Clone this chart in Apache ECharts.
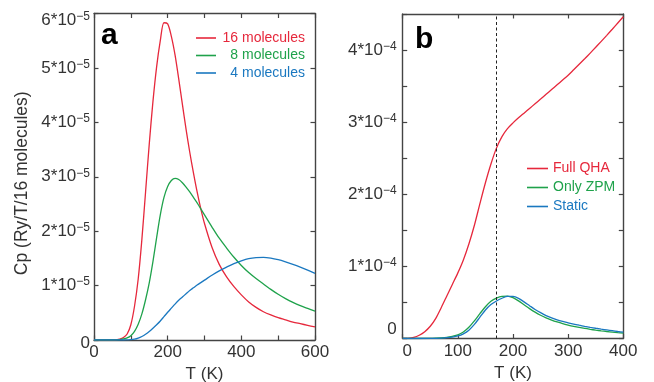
<!DOCTYPE html>
<html>
<head>
<meta charset="utf-8">
<title>Heat capacity vs temperature</title>
<script src="https://cdn.jsdelivr.net/npm/echarts@6/dist/echarts.min.js"></script>
<style>
  html, body { margin: 0; padding: 0; background: #fff; }
  #chart { width: 654px; height: 382px; }
</style>
</head>
<body>
<div id="chart"></div>
<script>
// Panel a: Cp per cell size, values in units of 1e-5 Ry/T/16 molecules
const tempA = [0, 10, 20, 30, 40, 50, 60, 70, 80, 90, 100, 110, 120, 130, 140, 150, 160, 170, 180, 190,
  200, 210, 220, 230, 240, 250, 260, 270, 280, 290, 300, 320, 340, 360, 380, 400, 420, 440, 460, 480,
  500, 520, 540, 560, 580, 600];
const cp16 = [0, 0, 0, 0, 0, 0, 0.003, 0.015, 0.045, 0.11, 0.28, 0.62, 1.12, 1.85, 2.72, 3.6, 4.38, 5.02, 5.5, 5.83,
  5.81, 5.58, 5.24, 4.8, 4.33, 3.87, 3.45, 3.07, 2.72, 2.41, 2.14, 1.71, 1.39, 1.16, 0.98, 0.83, 0.7, 0.6, 0.52, 0.46,
  0.41, 0.37, 0.33, 0.3, 0.27, 0.24];
const cp8 = [0, 0, 0, 0, 0, 0, 0.002, 0.008, 0.02, 0.04, 0.08, 0.16, 0.29, 0.48, 0.74, 1.05, 1.44, 1.88, 2.3, 2.62,
  2.82, 2.93, 2.97, 2.95, 2.89, 2.81, 2.72, 2.62, 2.52, 2.41, 2.3, 2.08, 1.87, 1.69, 1.52, 1.37, 1.24, 1.13, 1.03, 0.93,
  0.84, 0.76, 0.69, 0.63, 0.58, 0.53];
const cp4 = [0, 0, 0, 0, 0, 0, 0, 0, 0, 0.002, 0.005, 0.015, 0.035, 0.065, 0.105, 0.155, 0.215, 0.28, 0.35, 0.43,
  0.51, 0.585, 0.66, 0.73, 0.79, 0.85, 0.91, 0.96, 1.01, 1.055, 1.1, 1.19, 1.27, 1.34, 1.405, 1.455, 1.495, 1.515, 1.52, 1.505,
  1.475, 1.435, 1.39, 1.34, 1.285, 1.225];

// Panel b: Cp for three approximations, values in units of 1e-4
const tempB = [0, 10, 20, 30, 40, 50, 60, 70, 80, 90, 100, 110, 120, 130, 140, 150, 160, 170, 180, 190,
  200, 210, 220, 230, 240, 250, 260, 270, 280, 290, 300, 310, 320, 330, 340, 350, 360, 370, 380, 390, 400];
const cpQha = [0, 0.003, 0.015, 0.045, 0.095, 0.17, 0.28, 0.43, 0.59, 0.75, 0.91, 1.09, 1.31, 1.57, 1.87, 2.16, 2.42, 2.64, 2.8, 2.91,
  2.99, 3.06, 3.125, 3.19, 3.255, 3.32, 3.386, 3.452, 3.518, 3.584, 3.651, 3.726, 3.802, 3.879, 3.958, 4.039, 4.121, 4.204, 4.289, 4.375, 4.462];
const cpZpm = [0, 0, 0, 0, 0.001, 0.002, 0.005, 0.009, 0.016, 0.03, 0.05, 0.09, 0.155, 0.245, 0.345, 0.44, 0.515, 0.56, 0.585, 0.588,
  0.566, 0.522, 0.468, 0.414, 0.365, 0.322, 0.286, 0.256, 0.23, 0.207, 0.187, 0.169, 0.153, 0.139, 0.127, 0.116, 0.106, 0.097, 0.089, 0.081, 0.074];
const cpStatic = [0, 0, 0, 0, 0, 0.001, 0.003, 0.006, 0.011, 0.02, 0.035, 0.065, 0.115, 0.195, 0.295, 0.395, 0.47, 0.52, 0.558, 0.585,
  0.583, 0.556, 0.508, 0.455, 0.403, 0.358, 0.318, 0.286, 0.259, 0.237, 0.218, 0.2, 0.184, 0.169, 0.155, 0.142, 0.13, 0.119, 0.108, 0.097, 0.087];

// Series names, axis titles and tick exponents
const namesA = ['16 molecules', '8 molecules', '4 molecules'];
const namesB = ['Full QHA', 'Only ZPM', 'Static'];
const xTitle = 'T (K)';
const yTitleA = 'Cp (Ry/T/16 molecules)';
const expA = '\u22125';
const expB = '\u22124';
const transitionT = 170;

const RED = '#e6283c';
const GREEN = '#1fa24b';
const BLUE = '#1a78c0';
const FONT = "'Liberation Sans', Arial, Helvetica, sans-serif";
const AXIS = '#444';
const TXT = '#333';

const pairs = (xs, ys) => xs.map((x, i) => [x, ys[i]]);

// Rich styles for "n*10^e" tick labels (superscript raised by bottom padding)
const sciRich = {
  b: { fontSize: 17, fontFamily: FONT, color: TXT },
  s: { fontSize: 12, padding: [0, 0, 7, 0], fontFamily: FONT, color: TXT },
  bt: { fontSize: 17, padding: [13, 0, 0, 0], fontFamily: FONT, color: TXT },
  st: { fontSize: 12, padding: [6, 0, 0, 0], fontFamily: FONT, color: TXT },
  z: { fontSize: 17, padding: [6, 0, 0, 0], fontFamily: FONT, color: TXT },
  zu: { fontSize: 17, padding: [0, 0, 19, 0], fontFamily: FONT, color: TXT },
  x: { fontSize: 17, fontFamily: FONT, color: TXT },
  xz: { fontSize: 17, padding: [0, 0, 0, 9], fontFamily: FONT, color: TXT }
};

// Framed axis with inward ticks; used for all four sides of each panel
function boxAxis(extra) {
  return Object.assign({
    type: 'value',
    axisLine: { show: true, onZero: false, lineStyle: { color: AXIS, width: 1.4 } },
    axisTick: { show: true, inside: true, length: 4.5, lineStyle: { color: AXIS, width: 1.2 } },
    splitLine: { show: false },
    axisLabel: { show: false }
  }, extra);
}

const chart = echarts.init(document.getElementById('chart'), null, { renderer: 'canvas' });

chart.setOption({
  animation: false,
  backgroundColor: '#fff',
  textStyle: { fontFamily: FONT },
  title: [
    { text: 'a', left: 96, top: 16, padding: 5,
      textStyle: { fontSize: 30, fontWeight: 'bold', color: '#000', fontFamily: FONT } },
    { text: 'b', left: 410, top: 20, padding: 5,
      textStyle: { fontSize: 30, fontWeight: 'bold', color: '#000', fontFamily: FONT } }
  ],
  grid: [
    { left: 94, right: 339, top: 13.5, bottom: 42, containLabel: false, outerBoundsMode: 'none' },
    { left: 402.7, right: 30.7, top: 14, bottom: 43.5, containLabel: false, outerBoundsMode: 'none' }
  ],
  legend: [
    {
      orient: 'vertical', left: 196, top: 31, padding: 0, itemGap: 3.5,
      itemWidth: 20, itemHeight: 1.6, icon: 'rect',
      formatter: '{r|{name}}',
      textStyle: { fontSize: 14, fontFamily: FONT,
        rich: { r: { width: 84, align: 'right', fontSize: 14, fontFamily: FONT } } },
      data: [
        { name: namesA[0], textStyle: { color: RED } },
        { name: namesA[1], textStyle: { color: GREEN } },
        { name: namesA[2], textStyle: { color: BLUE } }
      ]
    },
    {
      orient: 'vertical', left: 527, top: 161.5, padding: 0, itemGap: 5,
      itemWidth: 21, itemHeight: 1.6, icon: 'rect',
      textStyle: { fontSize: 14, fontFamily: FONT },
      data: [
        { name: namesB[0], textStyle: { color: RED } },
        { name: namesB[1], textStyle: { color: GREEN } },
        { name: namesB[2], textStyle: { color: BLUE } }
      ]
    }
  ],
  xAxis: [
    boxAxis({
      gridIndex: 0, position: 'bottom', min: 0, max: 600, interval: 100,
      axisLabel: { show: true, margin: 4, rich: sciRich,
        formatter: v => (v % 200 === 0 ? '{x|' + v + '}' : '') },
      name: xTitle, nameLocation: 'middle', nameGap: 22,
      nameTextStyle: { fontSize: 17, color: TXT, fontFamily: FONT }
    }),
    boxAxis({ gridIndex: 0, position: 'top', min: 0, max: 600, interval: 100 }),
    boxAxis({
      gridIndex: 1, position: 'bottom', min: 0, max: 400, interval: 100,
      axisLabel: { show: true, margin: 4, rich: sciRich,
        formatter: v => (v === 0 ? '{xz|0}' : '{x|' + v + '}') },
      name: xTitle, nameLocation: 'middle', nameGap: 22,
      nameTextStyle: { fontSize: 17, color: TXT, fontFamily: FONT }
    }),
    boxAxis({ gridIndex: 1, position: 'top', min: 0, max: 400, interval: 100 })
  ],
  yAxis: [
    boxAxis({
      gridIndex: 0, position: 'left', min: 0, max: 6, interval: 1,
      axisLabel: { show: true, margin: 4, rich: sciRich,
        formatter: v => {
          if (v === 0) return '{z|0}';
          if (v === 6) return '{bt|' + v + '*10}{st|' + expA + '}';
          return '{b|' + v + '*10}{s|' + expA + '}';
        } },
      name: yTitleA, nameLocation: 'middle', nameGap: 63,
      nameTextStyle: { fontSize: 17.5, color: TXT, fontFamily: FONT, padding: [0, 13, 0, 0] }
    }),
    boxAxis({ gridIndex: 0, position: 'right', min: 0, max: 6, interval: 1 }),
    boxAxis({
      gridIndex: 1, position: 'left', min: 0, max: 4.5, interval: 0.5,
      axisLabel: { show: true, margin: 6, rich: sciRich,
        formatter: v => {
          if (v === 0) return '{zu|0}';
          if (Math.abs(v - Math.round(v)) > 1e-9) return '';
          return '{b|' + Math.round(v) + '*10}{s|' + expB + '}';
        } }
    }),
    boxAxis({ gridIndex: 1, position: 'right', min: 0, max: 4.5, interval: 0.5 })
  ],
  series: [
    { name: namesA[0], color: RED, data: pairs(tempA, cp16), xAxisIndex: 0, yAxisIndex: 0 },
    { name: namesA[1], color: GREEN, data: pairs(tempA, cp8), xAxisIndex: 0, yAxisIndex: 0 },
    { name: namesA[2], color: BLUE, data: pairs(tempA, cp4), xAxisIndex: 0, yAxisIndex: 0 },
    { name: namesB[0], color: RED, data: pairs(tempB, cpQha), xAxisIndex: 2, yAxisIndex: 2,
      markLine: {
        silent: true, symbol: ['none', 'none'], label: { show: false },
        lineStyle: { color: '#222', width: 1, type: [3, 2.5] },
        data: [{ xAxis: transitionT }]
      } },
    { name: namesB[1], color: GREEN, data: pairs(tempB, cpZpm), xAxisIndex: 2, yAxisIndex: 2 },
    { name: namesB[2], color: BLUE, data: pairs(tempB, cpStatic), xAxisIndex: 2, yAxisIndex: 2 }
  ].map(s => Object.assign({
    type: 'line', showSymbol: false, symbol: 'none', smooth: 0.3,
    lineStyle: { width: 1.3, color: s.color }, itemStyle: { color: s.color }
  }, s))
});
</script>
</body>
</html>
